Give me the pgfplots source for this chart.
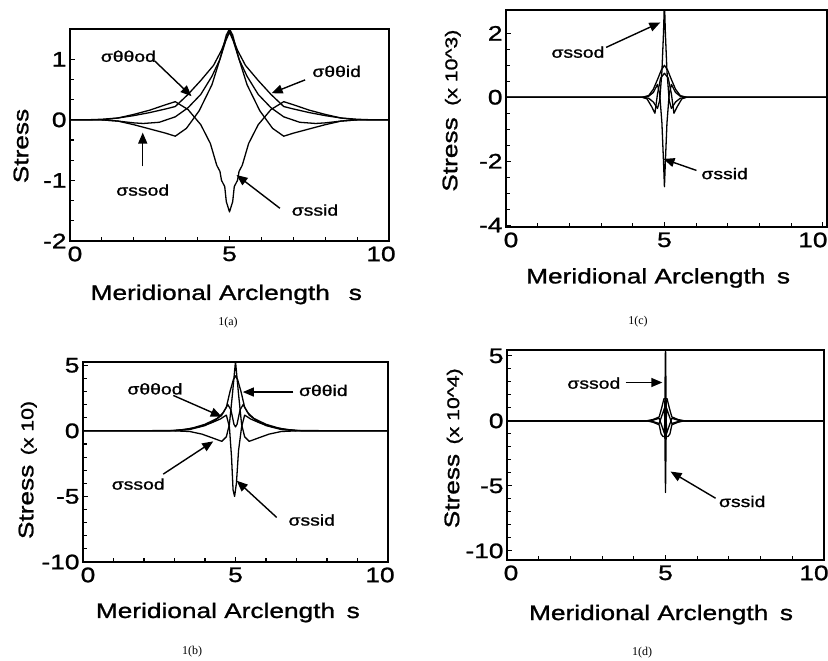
\documentclass[border=0pt]{standalone}
\usepackage{fontspec}
\setmainfont{Liberation Sans}[FakeStretch=1.25,FakeBold=1.2]
\newfontfamily\capfont{Liberation Serif}
\usepackage{pgfplots}
\pgfplotsset{compat=1.18}
\usetikzlibrary{arrows.meta}
\newcommand{\fbig}{\fontsize{21}{21}\selectfont}
\newcommand{\fmid}{\fontsize{17}{17}\selectfont}
\newcommand{\fann}{\fontsize{15.5}{15.5}\selectfont}
\tikzset{arr/.style={-{Triangle[length=11pt,width=9pt]}, line width=1.4pt}}
\pgfplotsset{
 panel/.style={
  scale only axis, anchor=south west,
  axis line style={line width=1.4pt},
  xmin=0, xmax=10, xtick={0,5,10}, xticklabels={\hspace*{10pt}0,5,10\hspace*{16pt}}, minor x tick num=4,
  tick align=inside, xtick pos=left, ytick pos=left,
  major tick length=5pt, minor tick length=4pt,
  every tick/.style={line width=1.1pt, black},
  ticklabel style={font=\fbig},
  xticklabel style={yshift=-2pt},
  label style={font=\fbig},
  xlabel style={anchor=base}, ylabel style={anchor=base},
 },
 curve/.style={black, line width=1.3pt, line join=round},
}
\begin{document}
\begin{tikzpicture}
\path[use as bounding box] (0,0) rectangle (828pt,661pt);

% ---------------- 1(a)
\begin{axis}[panel, at={(70pt,420pt)}, width=319pt, height=212pt,
 ymin=-2, ymax=1.5, ytick={-2,-1,0,1}, yticklabels={-2,-1,0,1}, minor y tick num=2,
 xlabel={Meridional Arclength\hspace{0.9em}s}, ylabel={Stress},
 xlabel style={at={(axis description cs:0.49,-0.278)}},
 ylabel style={at={(axis description cs:-0.131,0.448)}}]
\addplot[curve] coordinates {(0,0)(1,0)(1.5,-0.02)(2,-0.08)(2.5,-0.15)(3,-0.22)(3.3,-0.27)(3.65,-0.14)(4.05,0.15)(4.45,0.58)(4.7,1.0)(4.9,1.4)(5,1.5)(5.1,1.4)(5.3,1.0)(5.55,0.58)(5.95,0.15)(6.35,-0.14)(6.7,-0.27)(7,-0.22)(7.5,-0.15)(8,-0.08)(8.5,-0.02)(9,0)(10,0)};
\addplot[curve] coordinates {(0,0)(1,0)(1.5,0.03)(2,0.09)(2.5,0.16)(3,0.25)(3.3,0.30)(3.7,0.17)(4.1,-0.08)(4.4,-0.39)(4.6,-0.75)(4.7,-0.85)(4.75,-1.0)(4.85,-1.1)(4.9,-1.35)(5,-1.52)(5.1,-1.35)(5.15,-1.1)(5.25,-1.0)(5.3,-0.85)(5.4,-0.75)(5.6,-0.39)(5.9,-0.08)(6.3,0.17)(6.7,0.30)(7,0.25)(7.5,0.16)(8,0.09)(8.5,0.03)(9,0)(10,0)};
\addplot[curve] coordinates {(0,0)(0.5,0)(1,0.01)(1.5,0.03)(2,0.07)(2.5,0.12)(3,0.18)(3.3,0.22)(3.7,0.42)(4.1,0.65)(4.5,0.9)(4.75,1.15)(4.9,1.35)(5,1.47)(5.1,1.35)(5.25,1.15)(5.5,0.9)(5.9,0.65)(6.3,0.42)(6.7,0.22)(7,0.18)(7.5,0.12)(8,0.07)(8.5,0.03)(9,0.01)(9.5,0)(10,0)};
\addplot[curve] coordinates {(0,0)(1,0)(1.5,-0.02)(2,-0.05)(2.3,-0.06)(2.8,-0.04)(3.3,0.05)(3.7,0.2)(4.1,0.42)(4.45,0.72)(4.7,1.0)(4.88,1.3)(5,1.45)(5.12,1.3)(5.3,1.0)(5.55,0.72)(5.9,0.42)(6.3,0.2)(6.7,0.05)(7.2,-0.04)(7.7,-0.06)(8,-0.05)(8.5,-0.02)(9,0)(10,0)};
\node[font=\fann] at (axis cs:1.83,1.05) {σθθod};
\draw[arr] (axis cs:2.66,0.97) -- (axis cs:3.81,0.39);
\node[font=\fann] at (axis cs:8.36,0.80) {σθθid};
\draw[arr] (axis cs:7.37,0.66) -- (axis cs:6.32,0.44);
\node[font=\fann] at (axis cs:2.28,-1.16) {σssod};
\draw[arr] (axis cs:2.28,-0.77) -- (axis cs:2.28,-0.21);
\node[font=\fann] at (axis cs:7.68,-1.49) {σssid};
\draw[arr] (axis cs:6.58,-1.46) -- (axis cs:5.22,-0.91);
\end{axis}

% ---------------- 1(b)
\begin{axis}[panel, at={(83pt,99pt)}, width=305pt, height=200pt,
 ymin=-10, ymax=5.25, ytick={-10,-5,0,5}, yticklabels={-10,-5,0,5}, minor y tick num=4,
 xlabel={Meridional Arclength\hspace{0.55em}s}, ylabel={Stress\hspace{0.45em}{\fmid(x 10)}},
 xlabel style={at={(axis description cs:0.475,-0.28)}},
 ylabel style={at={(axis description cs:-0.163,0.46)}}]
\addplot[curve] coordinates {(0,0)(3,0)(3.5,-0.05)(3.9,-0.25)(4.2,-0.5)(4.55,-0.8)(4.7,-0.45)(4.8,0.5)(4.9,2.8)(5,5.3)(5.1,2.8)(5.2,0.5)(5.3,-0.45)(5.45,-0.8)(5.8,-0.5)(6.1,-0.25)(6.5,-0.05)(7,0)(10,0)};
\addplot[curve] coordinates {(0,0)(2.8,0)(3.3,0.1)(3.8,0.3)(4.2,0.6)(4.5,0.9)(4.7,1.2)(4.8,0.3)(4.87,-2)(4.92,-4.5)(4.97,-5.0)(5.03,-4.0)(5.1,-1.5)(5.2,0.3)(5.3,1.2)(5.5,0.9)(5.8,0.6)(6.2,0.3)(6.7,0.1)(7.2,0)(10,0)};
\addplot[curve] coordinates {(0,0)(3,0.02)(3.5,0.15)(4.0,0.5)(4.4,0.95)(4.6,1.4)(4.75,2.0)(4.85,1.6)(4.95,0.5)(5,0.3)(5.05,0.5)(5.15,1.6)(5.25,2.0)(5.4,1.4)(5.6,0.95)(6,0.5)(6.5,0.15)(7,0.02)(10,0)};
\addplot[curve] coordinates {(0,0)(3,0.01)(3.5,0.1)(4,0.4)(4.3,0.75)(4.55,1.2)(4.7,1.8)(4.82,3.0)(4.93,3.9)(5,4.2)(5.07,3.9)(5.18,3.0)(5.3,1.8)(5.45,1.2)(5.7,0.75)(6,0.4)(6.5,0.1)(7,0.01)(10,0)};
\node[font=\fann] at (axis cs:2.36,3.2) {σθθod};
\draw[arr] (axis cs:2.96,2.7) -- (axis cs:4.55,1.08);
\node[font=\fann] at (axis cs:7.88,3.08) {σθθid};
\draw[arr] (axis cs:6.9,2.96) -- (axis cs:5.24,2.96);
\node[font=\fann] at (axis cs:1.81,-4.06) {σssod};
\draw[arr] (axis cs:2.63,-3.3) -- (axis cs:4.27,-0.8);
\node[font=\fann] at (axis cs:7.5,-6.8) {σssid};
\draw[arr] (axis cs:6.35,-6.6) -- (axis cs:5.04,-3.8);
\end{axis}

% ---------------- 1(c)
\begin{axis}[panel, at={(506pt,434pt)}, width=321pt, height=217pt, xmax=10.13,
 xticklabels={\hspace*{10pt}0,5,10\hspace*{20pt}},
 ymin=-4.06, ymax=2.73, ytick={-4,-2,0,2}, yticklabels={-4,-2,0,2}, minor y tick num=3,
 xlabel={Meridional Arclength\hspace{0.55em}s}, ylabel={Stress\hspace{0.55em}{\fmid(x 10\textasciicircum 3)}},
 xlabel style={at={(axis description cs:0.474,-0.26)}},
 ylabel style={at={(axis description cs:-0.152,0.536)}}]
\addplot[curve] coordinates {(0,0)(4.3,0)(4.5,-0.03)(4.65,-0.15)(4.78,-0.35)(4.85,-0.1)(4.92,0.8)(4.97,2.0)(5,3.0)(5.03,2.0)(5.08,0.8)(5.15,-0.1)(5.22,-0.35)(5.35,-0.15)(5.5,-0.03)(5.7,0)(10.2,0)};
\addplot[curve] coordinates {(0,0)(4.3,0)(4.5,0.03)(4.65,0.15)(4.78,0.4)(4.85,0.1)(4.92,-0.8)(4.97,-2.0)(5,-2.8)(5.03,-2.0)(5.08,-0.8)(5.15,0.1)(5.22,0.4)(5.35,0.15)(5.5,0.03)(5.7,0)(10.2,0)};
\addplot[curve] coordinates {(0,0)(4.3,0)(4.5,0.05)(4.65,0.25)(4.8,0.6)(4.9,0.85)(5,1.0)(5.1,0.85)(5.2,0.6)(5.35,0.25)(5.5,0.05)(5.7,0)(10.2,0)};
\addplot[curve] coordinates {(0,0)(4.3,0)(4.45,-0.05)(4.6,-0.3)(4.7,-0.5)(4.78,0.1)(4.88,0.6)(5,0.75)(5.12,0.6)(5.22,0.1)(5.3,-0.5)(5.4,-0.3)(5.55,-0.05)(5.7,0)(10.2,0)};
\node[font=\fann] at (axis cs:2.27,1.41) {σssod};
\draw[arr] (axis cs:3.16,1.56) -- (axis cs:4.87,2.34);
\node[font=\fann] at (axis cs:6.9,-2.39) {σssid};
\draw[arr] (axis cs:6.01,-2.29) -- (axis cs:4.97,-1.93);
\end{axis}

% ---------------- 1(d)
\begin{axis}[panel, at={(507pt,101pt)}, width=317pt, height=210pt,
 xticklabels={\hspace*{8pt}0,5,10\hspace*{20pt}},
 ymin=-10.7, ymax=5.45, ytick={-10,-5,0,5}, yticklabels={-10,-5,0,5}, minor y tick num=4,
 xlabel={Meridional Arclength\hspace{0.55em}s}, ylabel={Stress\hspace{0.45em}{\fmid(x 10\textasciicircum 4)}},
 xlabel style={at={(axis description cs:0.486,-0.286)}},
 ylabel style={at={(axis description cs:-0.151,0.532)}}]
\addplot[curve] coordinates {(0,0)(4.4,0)(4.6,0.05)(4.8,0.2)(4.9,-0.5)(4.97,-1.0)(5,6.0)(5.03,-1.0)(5.1,-0.5)(5.2,0.2)(5.4,0.05)(5.6,0)(10,0)};
\addplot[curve] coordinates {(0,0)(4.4,0)(4.6,-0.05)(4.8,-0.2)(4.9,0.5)(4.97,1.0)(5,-5.5)(5.03,1.0)(5.1,0.5)(5.2,-0.2)(5.4,-0.05)(5.6,0)(10,0)};
\addplot[curve] coordinates {(0,0)(4.4,0)(4.6,0.1)(4.8,0.3)(4.88,1.0)(4.95,1.7)(5.05,1.7)(5.12,1.0)(5.2,0.3)(5.4,0.1)(5.6,0)(10,0)};
\addplot[curve] coordinates {(0,0)(4.4,0)(4.6,-0.1)(4.8,-0.3)(4.86,-1.0)(4.92,-1.2)(5.08,-1.2)(5.14,-1.0)(5.2,-0.3)(5.4,-0.1)(5.6,0)(10,0)};
\node[font=\fann] at (axis cs:2.74,2.9) {σssod};
\draw[arr] (axis cs:3.74,2.95) -- (axis cs:4.9,2.95);
\node[font=\fann] at (axis cs:7.42,-6.2) {σssid};
\draw[arr] (axis cs:6.58,-5.95) -- (axis cs:5.16,-3.9);
\end{axis}

% captions
\node[font=\capfont\fontsize{12}{12}\selectfont] at (228pt,338pt) {1(a)};
\node[font=\capfont\fontsize{12}{12}\selectfont] at (638pt,339pt) {1(c)};
\node[font=\capfont\fontsize{12}{12}\selectfont] at (192pt,9pt) {1(b)};
\node[font=\capfont\fontsize{12}{12}\selectfont] at (642pt,8pt) {1(d)};
\end{tikzpicture}
\end{document}
